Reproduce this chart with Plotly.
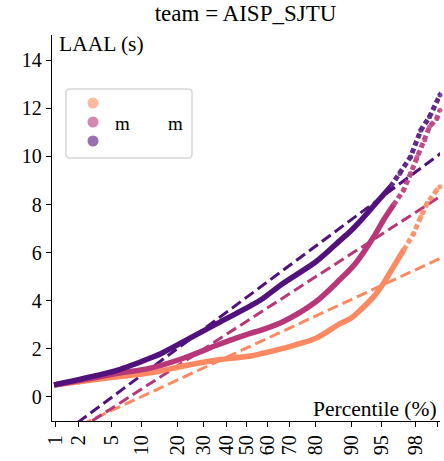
from statistics import NormalDist

import plotly.graph_objects as go

# ---- data: LAAL (s) against percentile (%) for the three systems ----
pct_light = [0.94, 2.4, 5.8, 12, 22, 36, 52, 57, 67, 80, 87.3, 89.6, 91.0,
             93.9, 95.2, 96.3, 97.2, 97.9, 98.3, 98.6, 98.97, 99.07]
laal_light = [0.50, 0.66, 0.84, 1.00, 1.29, 1.54, 1.70, 1.80, 2.02, 2.44, 3.06,
              3.25, 3.48, 4.17, 4.72, 5.41, 6.11, 6.80, 7.49, 8.05, 8.60, 8.74]

pct_mid = [0.94, 2.4, 5.8, 12, 22, 36, 52, 57, 67, 80, 87.3, 89.6, 91.0,
           93.9, 95.2, 96.3, 97.2, 97.7, 98.1, 98.5, 98.7, 98.97, 99.07]
laal_mid = [0.50, 0.72, 0.98, 1.20, 1.61, 2.16, 2.65, 2.78, 3.13, 3.96, 4.90,
            5.30, 5.62, 6.66, 7.35, 7.98, 8.60, 9.29, 9.98, 10.68, 11.23, 11.58, 11.92]

pct_dark = [0.94, 2.4, 5.8, 12, 14.7, 22, 36, 52, 57, 67, 80, 87.3, 89.6,
            91.6, 93.9, 96.0, 96.9, 97.7, 98.3, 98.7, 99.07, 99.15]
laal_dark = [0.50, 0.78, 1.12, 1.62, 1.80, 2.30, 3.06, 3.80, 4.05, 4.72, 5.62,
             6.52, 6.88, 7.30, 7.95, 8.74, 9.29, 9.98, 11.09, 11.65, 12.55, 12.70]

# normal fits (mean, standard deviation) drawn as dashed reference lines
fit_light = (2.04, 1.58)
fit_mid = (3.15, 2.20)
fit_dark = (4.15, 2.53)

tick_pct = [1, 2, 5, 10, 20, 30, 40, 50, 60, 70, 80, 90, 95, 98, 99]
tick_text = [str(t) for t in tick_pct]

colors = ["#fc8961", "#b73779", "#51127c"]
legend_colors = ["rgba(252,137,97,0.6)", "rgba(183,55,121,0.6)", "rgba(81,18,124,0.6)"]

FONT = "Liberation Serif"
TAIL = {"#fc8961": 97.2, "#b73779": 96.3, "#51127c": 96.0}

nd = NormalDist()


def probit(p):
    return nd.inv_cdf(p / 100.0)


X_RANGE = [-2.374, 2.354]
Y_RANGE = [-1.0, 15.05]

fig = go.Figure()

series = [
    (pct_light, laal_light, fit_light, colors[0]),
    (pct_mid, laal_mid, fit_mid, colors[1]),
    (pct_dark, laal_dark, fit_dark, colors[2]),
]

# dashed normal-fit lines
for _, _, (mu, sd), col in series:
    xs = [X_RANGE[0], X_RANGE[1] + 0.03]
    fig.add_trace(go.Scatter(
        x=xs, y=[mu + sd * z for z in xs], mode="lines",
        line=dict(color=col, width=3, dash="11px,5px"),
        showlegend=False, hoverinfo="skip", cliponaxis=True,
    ))

# empirical quantile curves: dense body as a thick line, sparse tail as dots
for pct, vals, _, col in series:
    z = [probit(p) for p in pct]
    cut = TAIL[col]
    body = [(zz, v) for zz, v, p in zip(z, vals, pct) if p <= cut]
    tail = [(zz, v) for zz, v, p in zip(z, vals, pct) if p >= cut]
    fig.add_trace(go.Scatter(
        x=[b[0] for b in body], y=[b[1] for b in body], mode="lines",
        line=dict(color=col, width=5.5, shape="spline", smoothing=0.8),
        showlegend=False,
    ))
    fig.add_trace(go.Scatter(
        x=[t[0] for t in tail], y=[t[1] for t in tail], mode="lines+markers",
        line=dict(color=col, width=5, dash="5px,3px"),
        marker=dict(color=col, size=5, opacity=0.85),
        opacity=0.9, cliponaxis=False, showlegend=False,
    ))

axis_common = dict(
    showline=True, linecolor="black", linewidth=1.4,
    ticks="outside", ticklen=5, tickwidth=1.3, tickcolor="black",
    showgrid=False, zeroline=False,
    tickfont=dict(family=FONT, size=20, color="black"),
)

fig.update_xaxes(
    range=X_RANGE, tickvals=[probit(p) for p in tick_pct], ticktext=tick_text,
    tickangle=-90, **axis_common,
)
fig.update_yaxes(
    range=Y_RANGE, tickvals=list(range(0, 15, 2)), **axis_common,
)

fig.add_annotation(
    text="LAAL (s)", xref="paper", yref="paper", x=0.012, y=1.012,
    xanchor="left", yanchor="top", showarrow=False,
    font=dict(family=FONT, size=21.5, color="black"),
)
fig.add_annotation(
    text="Percentile (%)", xref="paper", yref="paper", x=0.997, y=-0.005,
    xanchor="right", yanchor="bottom", showarrow=False,
    font=dict(family=FONT, size=21.5, color="black"),
)

# ---- legend box ----
W, H = 388.0, 386.0  # plot area in pixels


def px(xp):
    return (xp - 52) / W


def py(yp):
    return 1 - (yp - 35) / H


bx0, bx1, by0, by1 = px(66), px(192), py(89), py(158)
r = 4 / W
rv = 4 / H
box = (f"M {bx0 + r},{by0} L {bx1 - r},{by0} Q {bx1},{by0} {bx1},{by0 - rv} "
       f"L {bx1},{by1 + rv} Q {bx1},{by1} {bx1 - r},{by1} "
       f"L {bx0 + r},{by1} Q {bx0},{by1} {bx0},{by1 + rv} "
       f"L {bx0},{by0 - rv} Q {bx0},{by0} {bx0 + r},{by0} Z")
fig.add_shape(type="path", path=box, xref="paper", yref="paper",
              fillcolor="rgba(255,255,255,0.85)",
              line=dict(color="#d6d6d6", width=1.5), layer="above")
for i, col in enumerate(legend_colors):
    fig.add_shape(type="circle", xref="paper", yref="paper",
                  xsizemode="pixel", ysizemode="pixel",
                  xanchor=px(93), yanchor=py(103 + 19 * i),
                  x0=-5.5, x1=5.5, y0=-5.5, y1=5.5,
                  fillcolor=col, line=dict(width=0), layer="above")
for xc in (122.5, 175):
    fig.add_annotation(text="m", xref="paper", yref="paper", x=px(xc), y=py(123),
                       xanchor="center", yanchor="middle", showarrow=False,
                       font=dict(family=FONT, size=19, color="black"))

fig.update_layout(
    width=444, height=461,
    margin=dict(l=52, r=4, t=35, b=40),
    paper_bgcolor="white", plot_bgcolor="white",
    title=dict(text="team = AISP_SJTU", x=0.553, xanchor="center",
               y=0.972, yanchor="middle", yref="container",
               font=dict(family=FONT, size=23, color="black")),
    showlegend=False,
)

fig.write_html("out.html")
